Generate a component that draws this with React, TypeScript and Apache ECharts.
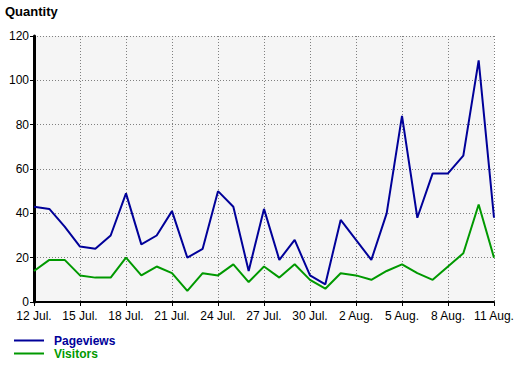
import React, { useEffect, useRef } from "react";
import * as echarts from "echarts";

const categories = [
  "12 Jul.", "13 Jul.", "14 Jul.", "15 Jul.", "16 Jul.", "17 Jul.", "18 Jul.", "19 Jul.",
  "20 Jul.", "21 Jul.", "22 Jul.", "23 Jul.", "24 Jul.", "25 Jul.", "26 Jul.", "27 Jul.",
  "28 Jul.", "29 Jul.", "30 Jul.", "31 Jul.", "1 Aug.", "2 Aug.", "3 Aug.", "4 Aug.",
  "5 Aug.", "6 Aug.", "7 Aug.", "8 Aug.", "9 Aug.", "10 Aug.", "11 Aug.",
];

const pageviews = [
  43, 42, 34, 25, 24, 30, 49, 26, 30, 41, 20, 24, 50, 43, 14, 42,
  19, 28, 12, 8, 37, 28, 19, 40, 84, 38, 58, 58, 66, 109, 38,
];

const visitors = [
  14, 19, 19, 12, 11, 11, 20, 12, 16, 13, 5, 13, 12, 17, 9, 16,
  11, 17, 10, 6, 13, 12, 10, 14, 17, 13, 10, 16, 22, 44, 20,
];

const yMin = 0;
const yMax = 120;
const yStep = 20;

const FONT = "'Liberation Sans', Arial, sans-serif";

export default function App() {
  const ref = useRef<HTMLDivElement>(null);

  useEffect(() => {
    document.body.style.margin = "0";
    const chart = echarts.init(ref.current!, null, { renderer: "svg" });
    chart.setOption({
      animation: false,
      backgroundColor: "#ffffff",
      textStyle: { fontFamily: FONT },
      title: {
        text: "Quantity",
        left: 5,
        top: 5,
        padding: 0,
        textStyle: { fontSize: 13, fontWeight: "bold", color: "#000", fontFamily: FONT },
      },
      grid: {
        left: 34,
        right: 26,
        top: 36,
        bottom: 64,
        show: true,
        backgroundColor: "#f5f5f5",
        borderWidth: 0,
      },
      legend: {
        orient: "vertical",
        left: 14,
        top: 334,
        padding: 0,
        icon: "rect",
        itemWidth: 30,
        itemHeight: 2,
        itemGap: 0,
        textStyle: {
          fontSize: 12,
          fontWeight: "bold",
          lineHeight: 13,
          padding: [0, 0, 0, 5],
          fontFamily: FONT,
        },
        data: [
          { name: "Pageviews", textStyle: { color: "#000099" } },
          { name: "Visitors", textStyle: { color: "#009900" } },
        ],
      },
      xAxis: {
        type: "category",
        data: categories,
        boundaryGap: false,
        axisLine: { show: true, lineStyle: { color: "#000", width: 2 } },
        axisTick: { show: true, interval: 2, length: 4, lineStyle: { color: "#000", width: 1 } },
        axisLabel: { interval: 2, color: "#000", fontSize: 12, margin: 8, fontFamily: FONT },
        splitLine: {
          show: true,
          interval: 2,
          lineStyle: { color: "#808080", type: [1, 2], width: 1 },
        },
      },
      yAxis: {
        type: "value",
        min: yMin,
        max: yMax,
        interval: yStep,
        axisLine: { show: true, lineStyle: { color: "#000", width: 3 } },
        axisTick: { show: true, length: 4, lineStyle: { color: "#000", width: 1 } },
        axisLabel: { color: "#000", fontSize: 12, margin: 5, fontFamily: FONT },
        splitLine: {
          show: true,
          lineStyle: { color: "#808080", type: [1, 2], width: 1 },
        },
      },
      series: [
        {
          name: "Pageviews",
          type: "line",
          data: pageviews,
          showSymbol: false,
          symbol: "none",
          lineStyle: { color: "#000099", width: 2 },
          itemStyle: { color: "#000099" },
        },
        {
          name: "Visitors",
          type: "line",
          data: visitors,
          showSymbol: false,
          symbol: "none",
          lineStyle: { color: "#009900", width: 2 },
          itemStyle: { color: "#009900" },
        },
      ],
    });
    return () => chart.dispose();
  }, []);

  return (
    <div
      ref={ref}
      style={{ position: "absolute", left: 0, top: 0, width: 520, height: 366 }}
    />
  );
}
